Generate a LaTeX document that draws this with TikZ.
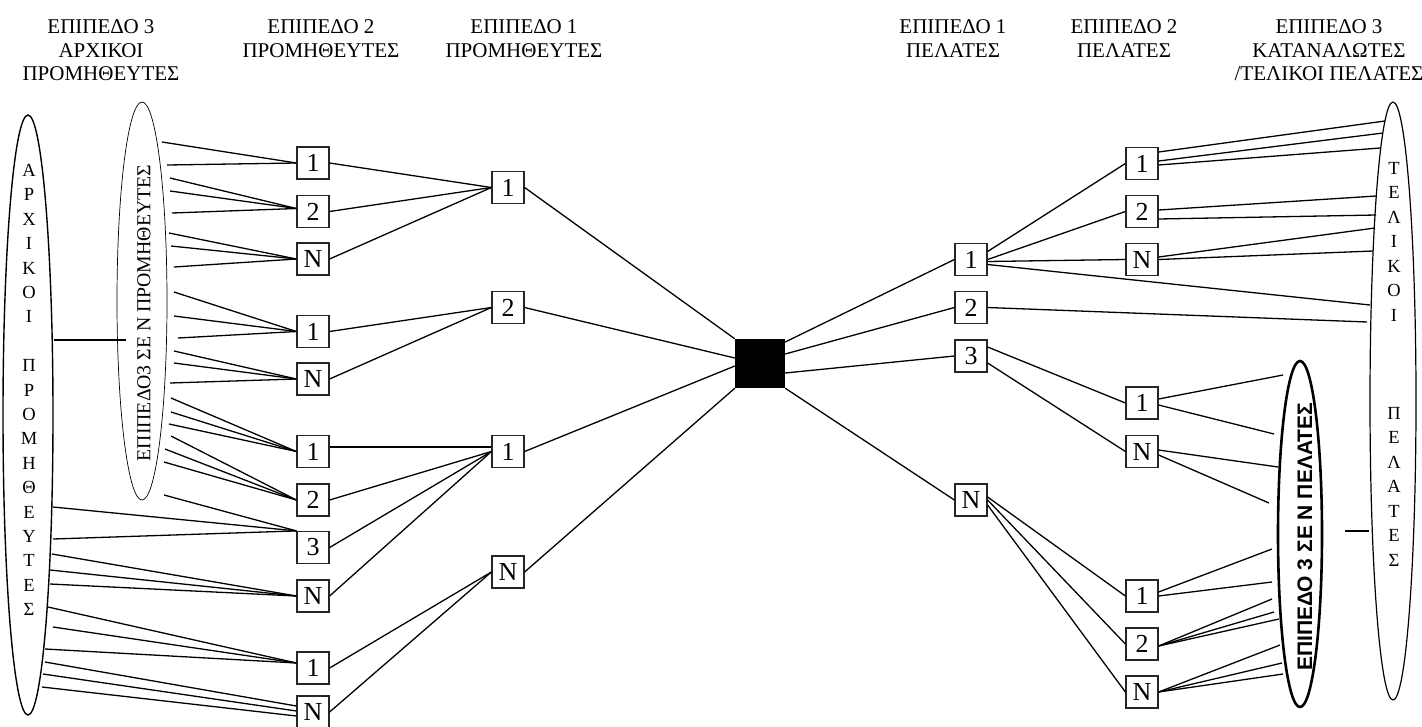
\documentclass[tikz,border=0pt]{standalone}
\usepackage{fontspec}
\setmainfont{Liberation Serif}
\newfontfamily\lsans{Liberation Sans}
\usetikzlibrary{shapes.geometric}
\begin{document}
\begin{tikzpicture}[x=1pt,y=-1pt,
  bx/.style={draw=black!85, line width=1.2pt, minimum size=32pt, inner sep=0pt, font=\fontsize{26}{26}\selectfont},
  ln/.style={line width=1.3pt},
  hd/.style={align=center, inner sep=0pt, anchor=north, font=\fontsize{21}{23.5}\selectfont},
  ell/.style={ellipse, draw, inner sep=0pt},
  vl/.style={align=center, inner sep=0pt, anchor=north}]
\useasboundingbox (0,0) rectangle (1422,726);

% headings
\node[hd] (h1) at (101,19.5) {ΕΠΙΠΕΔΟ 3\\ΑΡΧΙΚΟΙ\\ΠΡΟΜΗΘΕΥΤΕΣ};
\node[hd] (h2) at (321,19.5) {ΕΠΙΠΕΔΟ 2\\ΠΡΟΜΗΘΕΥΤΕΣ};
\node[hd] (h3) at (524,19.5) {ΕΠΙΠΕΔΟ 1\\ΠΡΟΜΗΘΕΥΤΕΣ};
\node[hd] (h4) at (953,19.5) {ΕΠΙΠΕΔΟ 1\\ΠΕΛΑΤΕΣ};
\node[hd] (h5) at (1124,19.5) {ΕΠΙΠΕΔΟ 2\\ΠΕΛΑΤΕΣ};
\node[hd] (h6) at (1329,19.5) {ΕΠΙΠΕΔΟ 3\\ΚΑΤΑΝΑΛΩΤΕΣ\\/ΤΕΛΙΚΟΙ ΠΕΛΑΤΕΣ};

% ellipses
\node[ell, line width=1.4pt, minimum width=50pt, minimum height=600pt] (E1) at (28,415) {};
\node[ell, line width=0.7pt, minimum width=50pt, minimum height=398pt] (E2) at (142,301) {};
\node[ell, line width=1.2pt, minimum width=46pt, minimum height=598pt] (E3) at (1393,401) {};
\node[ell, line width=2.6pt, minimum width=44pt, minimum height=346pt] (E4) at (1300,534) {};

\node[vl, font=\fontsize{18.5}{24.4}\selectfont] (t1) at (29,164)
  {Α\\Ρ\\Χ\\Ι\\Κ\\Ο\\Ι\\[24.4pt]Π\\Ρ\\Ο\\Μ\\Η\\Θ\\Ε\\Υ\\Τ\\Ε\\Σ};
\node[vl, font=\fontsize{18.5}{24.5}\selectfont] (t3) at (1394,162)
  {Τ\\Ε\\Λ\\Ι\\Κ\\Ο\\Ι\\[73.5pt]Π\\Ε\\Λ\\Α\\Τ\\Ε\\Σ};
\node[rotate=90, inner sep=0pt, font=\fontsize{19.8}{19.8}\selectfont] (t2) at (144,313) {ΕΠΙΠΕΔΟ3 ΣΕ Ν ΠΡΟΜΗΘΕΥΤΕΣ};
\node[rotate=90, inner sep=0pt, font=\lsans\bfseries\fontsize{21}{21}\selectfont] (t4) at (1305,537) {ΕΠΙΠΕΔΟ 3 ΣΕ Ν ΠΕΛΑΤΕΣ};

% boxes
\node[bx] (a1) at (313,163) {1};
\node[bx] (a2) at (313,211.5) {2};
\node[bx] (a3) at (313,259) {N};
\node[bx] (a4) at (313,331.5) {1};
\node[bx] (a5) at (313,379) {N};
\node[bx] (a6) at (313,451.5) {1};
\node[bx] (a7) at (313,500) {2};
\node[bx] (a8) at (313,547.5) {3};
\node[bx] (a9) at (313,596) {N};
\node[bx] (a10) at (313,668) {1};
\node[bx] (a11) at (313,712) {N};
\node[bx] (b1) at (508,187.5) {1};
\node[bx] (b2) at (508,307.5) {2};
\node[bx] (b3) at (508,451.5) {1};
\node[bx] (b4) at (508,572) {N};
\node[fill=black, inner sep=0pt, minimum width=50pt, minimum height=49pt] (c) at (760,363.5) {};
\node[bx] (d1) at (971,259.5) {1};
\node[bx] (d2) at (971,307.5) {2};
\node[bx] (d3) at (971,356) {3};
\node[bx] (d4) at (971,500) {N};
\node[bx] (e1) at (1142,163.5) {1};
\node[bx] (e2) at (1142,211.5) {2};
\node[bx] (e3) at (1142,259.5) {N};
\node[bx] (e4) at (1142,403) {1};
\node[bx] (e5) at (1142,451.5) {N};
\node[bx] (e6) at (1142,596) {1};
\node[bx] (e7) at (1142,644) {2};
\node[bx] (e8) at (1142,692) {N};

% free ends
\foreach \n/\x/\y in {p1/162/142, p2/167/165, p3/170/178, p4/170/191, p5/172/213,
  p6/169/233, p7/171/246, p8/174/267, p9/174/292, p10/174/316, p11/178/338,
  p12/174/351, p13/174/363, p14/170/383, p15/171/398, p16/171/412, p17/169/424,
  p18/171/436, p19/165/449, p20/164/462, p21/164/495, p22/53/507, p23/53/539,
  p24/52/554, p25/50/570, p26/50/584, p27/48/607, p28/53/627, p29/45/649,
  p30/45/662, p31/43/674, p32/42/687,
  q1/1385/121, q2/1383/133, q3/1380/148, q4/1376/196, q5/1376/215, q6/1375/228,
  q7/1373/251, q8/1370/305, q9/1367/322, q10/1283/375, q11/1274/434, q12/1278/467,
  q13/1269/503, q14/1272/549, q15/1272/582, q16/1272/599, q17/1274/612, q18/1279/619,
  q19/1280/645, q20/1282/663, q21/1283/674, j1/126/340, j2/1345/531}
  \coordinate (\n) at (\x,\y);

% level 3 -> level 2 suppliers
\foreach \p/\b in {p1/a1,p2/a1,p6/a3,p7/a3,p8/a3,p9/a4,p10/a4,p11/a4,
  p12/a5,p13/a5,p14/a5,p15/a6,p16/a6,p17/a6,p18/a7,p19/a7,p20/a7,
  p24/a9,p25/a9,p26/a9}
  \draw[ln] (\p) -- (\b.west);
\foreach \p in {p3,p4,p5} \draw[ln] (\p) -- ([yshift=3pt]a2.west);
\foreach \p in {p21,p22,p23} \draw[ln] (\p) -- (a8.north west);
\foreach \p in {p27,p28,p29} \draw[ln] (\p) -- ([yshift=5pt]a10.west);
\draw[ln] (p30) -- ([yshift=6pt]a11.west);
\draw[ln] (p31) -- ([yshift=1pt]a11.west);
\draw[ln] (p32) -- ([yshift=-4pt]a11.west);
\draw[ln] (E1.east |- j1) -- (j1);

% level 2 -> level 1 suppliers
\draw[ln] (a1.east) -- (b1.west);
\draw[ln] (a2.east) -- (b1.west);
\draw[ln] (a3.east) -- (b1.west);
\draw[ln] (a4.east) -- (b2.west);
\draw[ln] (a5.east) -- (b2.west);
\draw[ln] ([yshift=4.5pt]a6.east) -- ([yshift=4.5pt]b3.west);
\draw[ln] (a7.east) -- (b3.west);
\draw[ln] (a8.east) -- (b3.west);
\draw[ln] (a9.east) -- (b3.west);
\draw[ln] (a10.east) -- (b4.west);
\draw[ln] (a11.east) -- (b4.west);

% level 1 suppliers -> centre
\draw[ln] (b1.east) -- (c.north west);
\draw[ln] (b2.east) -- ([yshift=5.5pt]c.west);
\draw[ln] (b3.east) -- ([yshift=-2.5pt]c.west);
\draw[ln] (b4.east) -- (c.south west);

% centre -> level 1 customers
\draw[ln] ([yshift=21.5pt]c.east) -- (d1.west);
\draw[ln] ([yshift=9.5pt]c.east) -- (d2.west);
\draw[ln] ([yshift=-9.5pt]c.east) -- (d3.west);
\draw[ln] (c.south east) -- (d4.west);

% level 1 -> level 2 customers
\draw[ln] ([yshift=8pt]d1.east) -- (e1.west);
\draw[ln] (d1.east) -- (e2.west);
\draw[ln] ([yshift=-2pt]d1.east) -- (e3.west);
\draw[ln] ([yshift=-5pt]d1.east) -- (q8);
\draw[ln] (d2.east) -- (q9);
\draw[ln] ([yshift=9pt]d3.east) -- (e4.west);
\draw[ln] ([yshift=-7pt]d3.east) -- (e5.west);
\draw[ln] ([yshift=3pt]d4.east) -- (e6.west);
\draw[ln] (d4.east) -- (e7.west);
\draw[ln] ([yshift=-5pt]d4.east) -- (e8.west);

% level 2 customers -> level 3
\draw[ln] ([yshift=11.5pt]e1.east) -- (q1);
\draw[ln] ([yshift=2.5pt]e1.east) -- (q2);
\draw[ln] ([yshift=-1.5pt]e1.east) -- (q3);
\draw[ln] ([yshift=1.5pt]e2.east) -- (q4);
\draw[ln] ([yshift=-7.5pt]e2.east) -- (q5);
\draw[ln] ([yshift=2.5pt]e3.east) -- (q6);
\draw[ln] (e3.east) -- (q7);
\draw[ln] ([yshift=4pt]e4.east) -- (q10);
\draw[ln] ([yshift=-2pt]e4.east) -- (q11);
\draw[ln] ([yshift=1.5pt]e5.east) -- (q12);
\draw[ln] ([yshift=-3.5pt]e5.east) -- (q13);
\draw[ln] ([yshift=4pt]e6.east) -- (q14);
\draw[ln] (e6.east) -- (q15);
\foreach \q in {q16,q17,q18} \draw[ln] ([yshift=-2pt]e7.east) -- (\q);
\foreach \q in {q19,q20,q21} \draw[ln] (e8.east) -- (\q);
\draw[ln] (j2) -- (E3.west |- j2);
\end{tikzpicture}
\end{document}
